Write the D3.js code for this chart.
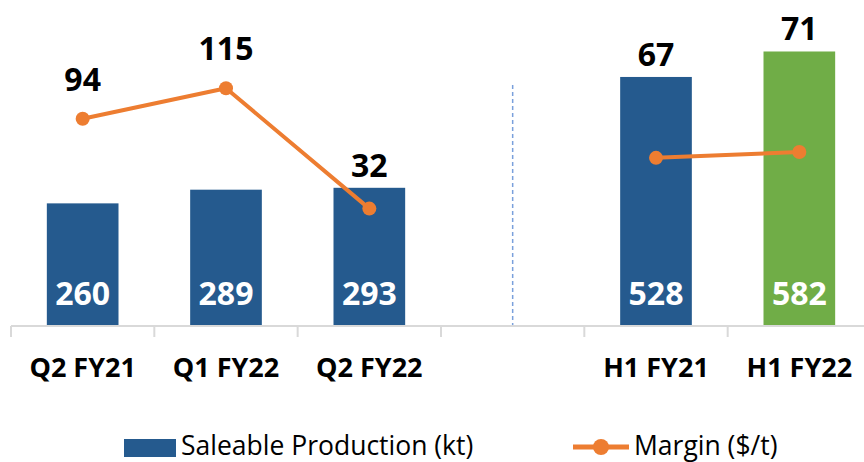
<!DOCTYPE html>
<html>
<head>
<meta charset="utf-8">
<script src="https://cdn.jsdelivr.net/npm/d3@7"></script>
<style>
  html, body { margin: 0; padding: 0; background: #fff; }
  svg { display: block; font-family: "Open Sans", sans-serif; }
</style>
</head>
<body>
<svg id="chart" width="864" height="462"></svg>
<script>
const categories = ["Q2 FY21", "Q1 FY22", "Q2 FY22", "", "H1 FY21", "H1 FY22"];
const production = [260, 289, 293, null, 528, 582];
const margin = [94, 115, 32, null, 67, 71];
const legendLabels = ["Saleable Production (kt)", "Margin ($/t)"];

const BLUE = "#255a8e", GREEN = "#70ad47", ORANGE = "#ed7d31", AXIS = "#d9d9d9";

const svg = d3.select("#chart");
const baseY = 326;

const x = d3.scaleBand().domain(categories).range([11, 871]).paddingInner(0.5).paddingOuter(0.25);
const yBar = d3.scaleLinear().domain([0, 600]).range([baseY, 43]);
const yLine = d3.scaleLinear().domain([0, 100]).range([255, 110]);
const step = x.step();
const x0 = x.range()[0];

// separator (dashed) in the blank slot
const sepCat = categories[3];
svg.append("line")
  .attr("x1", x(sepCat) + x.bandwidth() / 2).attr("x2", x(sepCat) + x.bandwidth() / 2)
  .attr("y1", 85).attr("y2", baseY)
  .attr("stroke", "#7aa0dc").attr("stroke-width", 1.5).attr("stroke-dasharray", "4,3");

// bars
const data = categories.map((c, i) => ({ c, i, p: production[i], m: margin[i] }));
const barData = data.filter(d => d.p != null);
const barColor = d => d.i === categories.length - 1 ? GREEN : BLUE;

svg.selectAll("rect.bar").data(barData).enter().append("rect")
  .attr("class", "bar")
  .attr("x", d => x(d.c)).attr("width", x.bandwidth())
  .attr("y", d => yBar(d.p)).attr("height", d => baseY - yBar(d.p))
  .attr("fill", barColor);

// axis line + ticks
svg.append("line").attr("x1", x0).attr("x2", x.range()[1]).attr("y1", baseY).attr("y2", baseY)
  .attr("stroke", AXIS).attr("stroke-width", 2);
svg.selectAll("line.tick").data(d3.range(categories.length + 1)).enter().append("line")
  .attr("class", "tick")
  .attr("x1", i => x0 + i * step).attr("x2", i => x0 + i * step)
  .attr("y1", baseY).attr("y2", baseY + 11)
  .attr("stroke", AXIS).attr("stroke-width", 2);

// category labels
svg.selectAll("text.cat").data(data.filter(d => d.c !== "")).enter().append("text")
  .attr("class", "cat")
  .attr("x", d => x(d.c) + x.bandwidth() / 2).attr("y", 377)
  .attr("text-anchor", "middle").attr("font-size", 27).attr("font-weight", 700).attr("fill", "#000")
  .text(d => d.c);

// bar value labels
svg.selectAll("text.bval").data(barData).enter().append("text")
  .attr("class", "bval")
  .attr("x", d => x(d.c) + x.bandwidth() / 2).attr("y", baseY - 21)
  .attr("text-anchor", "middle").attr("font-size", 32).attr("font-weight", 700).attr("fill", "#fff")
  .text(d => d.p);

// margin line
const line = d3.line()
  .defined(d => d.m != null)
  .x(d => x(d.c) + x.bandwidth() / 2)
  .y(d => yLine(d.m));
svg.append("path").datum(data).attr("d", line)
  .attr("fill", "none").attr("stroke", ORANGE).attr("stroke-width", 4).attr("stroke-linejoin", "round");

const lineData = data.filter(d => d.m != null);
svg.selectAll("circle.pt").data(lineData).enter().append("circle")
  .attr("class", "pt")
  .attr("cx", d => x(d.c) + x.bandwidth() / 2).attr("cy", d => yLine(d.m)).attr("r", 7)
  .attr("fill", ORANGE);

// margin labels (kept clear of the bar)
svg.selectAll("text.mval").data(lineData).enter().append("text")
  .attr("class", "mval")
  .attr("x", d => x(d.c) + x.bandwidth() / 2)
  .attr("y", d => Math.min(yLine(d.m) - 28, yBar(d.p) - 11))
  .attr("text-anchor", "middle").attr("font-size", 32).attr("font-weight", 700).attr("fill", "#000")
  .text(d => d.m);

// legend
const lg = svg.append("g");
lg.append("rect").attr("x", 124).attr("y", 439).attr("width", 52).attr("height", 18).attr("fill", BLUE);
lg.append("text").attr("x", 181).attr("y", 455).attr("font-size", 26.5).attr("fill", "#000").text(legendLabels[0]);
lg.append("line").attr("x1", 573).attr("x2", 629).attr("y1", 447).attr("y2", 447)
  .attr("stroke", ORANGE).attr("stroke-width", 5);
lg.append("circle").attr("cx", 601).attr("cy", 447).attr("r", 8).attr("fill", ORANGE);
lg.append("text").attr("x", 634).attr("y", 455).attr("font-size", 26.5).attr("fill", "#000").text(legendLabels[1]);
</script>
</body>
</html>
